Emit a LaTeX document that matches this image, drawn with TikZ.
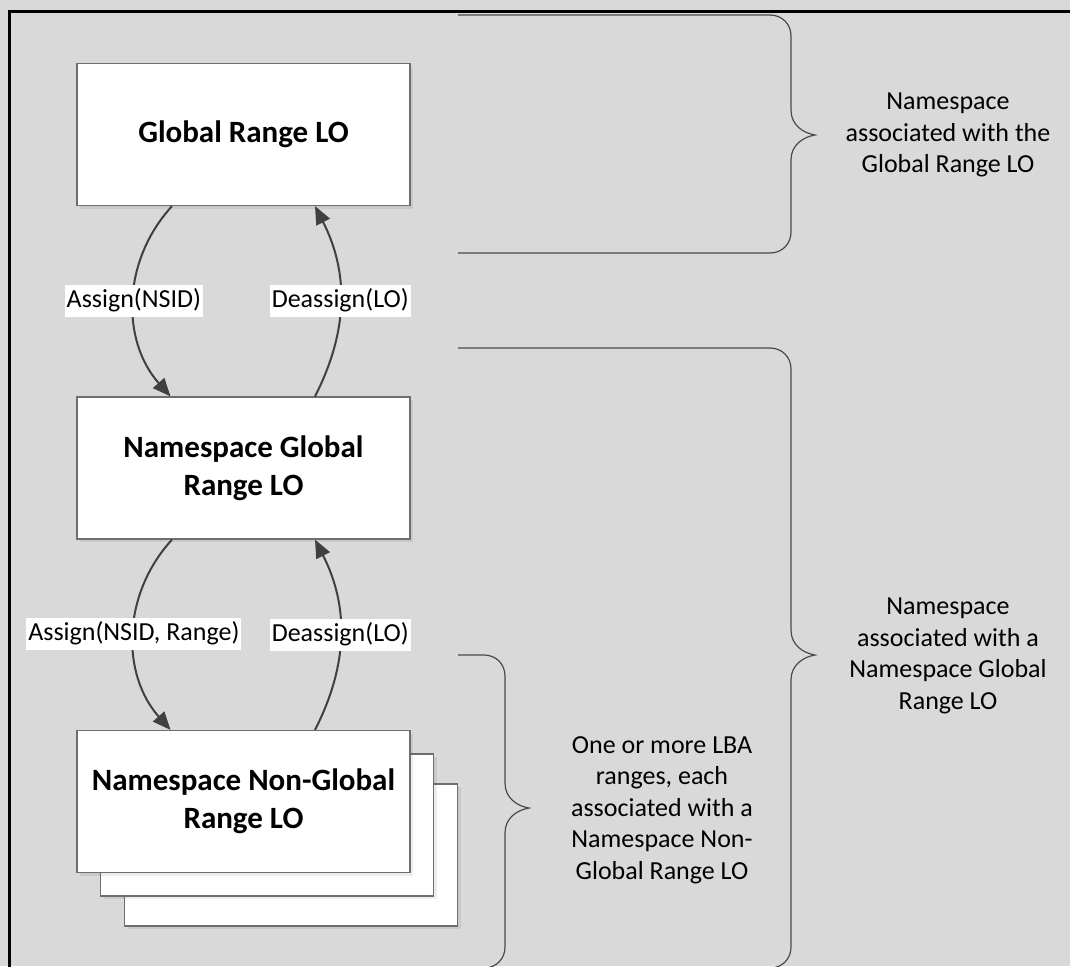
\documentclass[tikz,border=0pt]{standalone}
\usepackage{fontspec}
\setmainfont{Carlito}
\usetikzlibrary{arrows.meta,shadows}
\definecolor{bgc}{HTML}{D9D9D9}
\definecolor{boxline}{HTML}{6E6E6E}
\definecolor{arrc}{HTML}{404040}
\definecolor{bracec}{HTML}{4A4A4A}
\newcommand\mybrace[5]{%
  \draw[bracepath] (#1,#3) -- ({#2-21},#3)
    .. controls ({#2-9},#3) and (#2,{#3+9}) .. (#2,{#3+21})
    -- (#2,{#4-25})
    .. controls (#2,{#4-10}) and ({#2+12},{#4-2}) .. ({#2+24},#4)
    .. controls ({#2+12},{#4+2}) and (#2,{#4+10}) .. (#2,{#4+25})
    -- (#2,{#5-21})
    .. controls (#2,{#5-9}) and ({#2-9},#5) .. ({#2-21},#5)
    -- (#1,#5);}
\begin{document}
\begin{tikzpicture}[x=0.5pt,y=-0.5pt,
  lobox/.style={rectangle, draw=boxline, line width=0.6pt, fill=white,
    minimum width=166.5pt, minimum height=71pt, inner sep=0pt, align=center,
    font=\fontsize{15.5}{19}\selectfont\bfseries,
    drop shadow={shadow xshift=1.5pt, shadow yshift=-1.5pt, fill=black, opacity=0.07}},
  conn/.style={draw=arrc, line width=1pt, -{Triangle[length=9pt,width=7.5pt]}},
  lbl/.style={fill=white, inner xsep=1pt, inner ysep=1.25pt, text height=10pt,
    text depth=3.5pt, font=\fontsize{13}{15.75}\selectfont, text=black},
  note/.style={align=center, font=\fontsize{13}{15.75}\selectfont, inner sep=0pt},
  bracepath/.style={draw=bracec, line width=0.6pt}
]
\useasboundingbox (0,0) rectangle (1070,966);
\fill[bgc] (0,0) rectangle (1070,966);
\clip (0,0) rectangle (1070,966);
\draw[line width=1.3pt] (9.7,11.2) rectangle (1200,1100);

% boxes
\node[lobox] (g) at (243.5,134.5) {Global Range LO};
\node[lobox] (n) at (243.5,468) {Namespace Global\\Range LO};
\node[lobox] (c3) at (291,855) {};
\node[lobox] (c2) at (267,825) {};
\node[lobox] (c) at (243.5,801.5) {Namespace Non-Global\\Range LO};

% connectors
\draw[conn] ([xshift=-35.75pt]g.south) to[bend right=42]
  node[lbl] {Assign(NSID)} ([xshift=-36.5pt]n.north);
\draw[conn] ([xshift=35.75pt]n.north) to[bend right=27]
  node[lbl] {Deassign(LO)} ([xshift=35.75pt]g.south);
\draw[conn] ([xshift=-35.75pt]n.south) to[bend right=42]
  node[lbl] {Assign(NSID, Range)} ([xshift=-36.5pt]c.north);
\draw[conn] ([xshift=35.75pt]c.north) to[bend right=27]
  node[lbl] {Deassign(LO)} ([xshift=35.75pt]n.south);

% braces
\mybrace{458}{791}{15}{135}{253}
\mybrace{458}{791}{348}{655}{968}
\mybrace{458}{505}{655}{808}{968}

\node[note] (t1) at (948,135) {Namespace\\associated with the\\Global Range LO};
\node[note] (t2) at (948,656) {Namespace\\associated with a\\Namespace Global\\Range LO};
\node[note] (t3) at (662,810) {One or more LBA\\ranges, each\\associated with a\\Namespace Non-\\Global Range LO};
\end{tikzpicture}
\end{document}
